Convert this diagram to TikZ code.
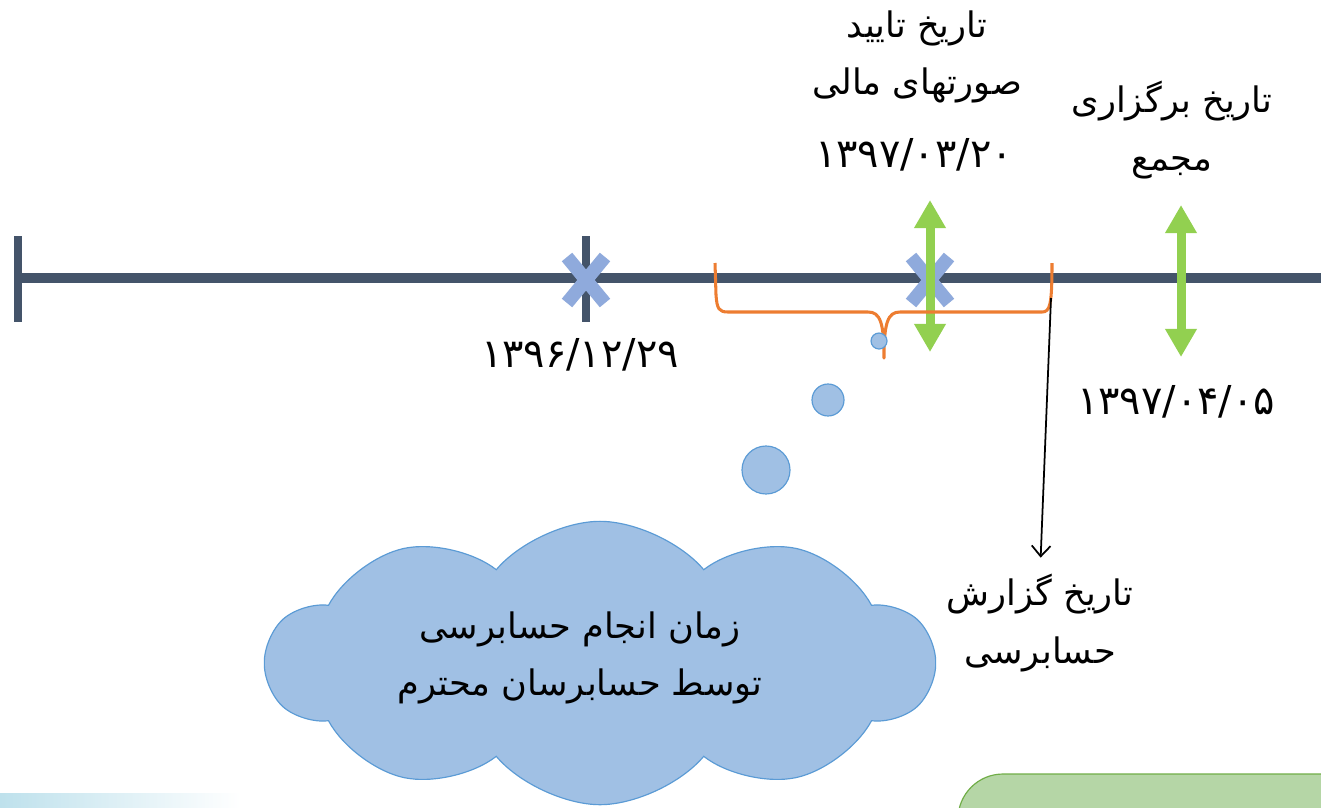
\documentclass[tikz,border=0pt]{standalone}
\usepackage{fontspec}
\newfontfamily\arabicfont[Script=Arabic]{DejaVu Sans}
\newfontfamily\digitfont{DejaVu Sans}
\TeXXeTstate=1
\usetikzlibrary{arrows.meta,shapes.symbols}
\definecolor{slate}{RGB}{68,84,106}
\definecolor{ocre}{RGB}{237,125,49}
\definecolor{leaf}{RGB}{146,208,80}
\definecolor{xblue}{RGB}{143,170,220}
\definecolor{puff}{RGB}{160,192,228}
\definecolor{puffline}{RGB}{91,155,213}
\definecolor{mint}{RGB}{181,214,166}
\definecolor{mintline}{RGB}{112,173,71}

\begin{document}
\begin{tikzpicture}[x=0.03cm,y=-0.03cm,
  fa/.style={font=\arabicfont\fontsize{30}{49}\selectfont,align=center,inner sep=0pt},
  datum/.style={font=\digitfont\fontsize{34}{40}\selectfont,inner sep=0pt},
  cross/.style={xblue,line width=11.5pt},
  span/.style={leaf,line width=7.7pt,{Triangle[width=25.6pt,length=24pt]}-{Triangle[width=25.6pt,length=24pt]}},
  bubble/.style={circle,draw=puffline,fill=puff,line width=1pt,inner sep=0pt}]
\useasboundingbox (0,0) rectangle (1321,807);
\clip (0,0) rectangle (1321,807);
% faint background corner
\shade[left color={rgb,255:red,190;green,225;blue,236},right color=white] (0,793) rectangle (240,807);
% time line
\draw [slate,line width=8.5pt] (18,278)--(1321,278);
\draw [slate,line width=6.8pt] (18,236)--(18,322);
\draw [slate,line width=6pt] (586,236)--(586,322);
% marks
\draw [cross] (567,257)--(605,303);
\draw [cross] (605,257)--(567,303);
\draw [cross] (911,257)--(949,303);
\draw [cross] (949,257)--(911,303);
\coordinate (approveTop) at (930,200);
\coordinate (approveBot) at (930,352);
\coordinate (meetTop) at (1181,205);
\coordinate (meetBot) at (1181,357);
\draw [span] (approveTop)--(approveBot);
\draw [span] (meetTop)--(meetBot);
% brace
\draw [ocre,line width=2.6pt,line join=round] (715,263)--(716,295) .. controls (717,309) and (719,312) .. (728,312)
  --(868,312) .. controls (880,312) and (884,322) .. (884,358)
  .. controls (884,322) and (888,312) .. (900,312)
  --(1042,312) .. controls (1050,312) and (1052,305) .. (1052,263);
\coordinate (braceEnd) at (1051,298);
% labels
\node[fa] (approve) at (917,57) {\beginR تاریخ تایید\endR\\\beginR صورتهای مالی\endR};
\node[datum] (approveDate) at (914,155) {۱۳۹۷/۰۳/۲۰};
\node[fa] (meeting) at (1172,130) {\beginR تاریخ برگزاری\endR\\\beginR مجمع\endR};
\node[datum] (meetDate) at (1176,402) {۱۳۹۷/۰۴/۰۵};
\node[datum] (yearEnd) at (580,355) {۱۳۹۶/۱۲/۲۹};
\node[fa] (report) at (1040,623) {\beginR تاریخ گزارش\endR\\\beginR حسابرسی\endR};
\draw [line width=1.5pt,-{Straight Barb[length=9pt,width=16pt]},shorten >=14pt] (braceEnd)--(report.north);
% thought cloud
\node[bubble,minimum size=0.48cm] (b1) at (879,341) {};
\node[bubble,minimum size=0.96cm] (b2) at (828,400) {};
\node[bubble,minimum size=1.44cm] (b3) at (766,470) {};
\node[cloud,cloud puffs=10,cloud puff arc=100,cloud ignores aspect,minimum width=20cm,minimum height=8.5cm,
  draw=puffline,fill=puff,line width=1pt] (audit) at (600,663) {};
\node[fa] (auditText) at (580,658) {\beginR زمان انجام حسابرسی\endR\\\beginR توسط حسابرسان محترم\endR};
% green box
\draw [mintline,fill=mint,line width=1pt,rounded corners=1.35cm] (958,860) rectangle (1400,774);
\end{tikzpicture}
\end{document}
